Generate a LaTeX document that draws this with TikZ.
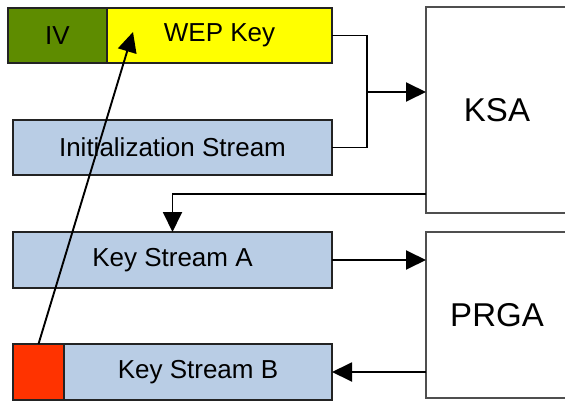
\documentclass[tikz,border=0pt]{standalone}
\usepackage{fontspec}
\setmainfont{Liberation Sans}
\usetikzlibrary{arrows.meta}
\definecolor{ivgreen}{RGB}{94,140,0}
\definecolor{wepyellow}{RGB}{255,255,0}
\definecolor{streamblue}{RGB}{185,205,229}
\definecolor{keyred}{RGB}{255,51,0}
\definecolor{edge}{RGB}{35,35,35}
\begin{document}
\begin{tikzpicture}[x=1pt,y=-1pt,
  box/.style={draw=edge,line width=1.8pt,rectangle,inner sep=0pt,outer sep=0pt,
    font=\fontsize{26}{30}\selectfont},
  bigbox/.style={draw=edge!80,line width=1.3pt,fill=white,rectangle,inner sep=0pt,outer sep=0pt,
    font=\fontsize{33}{38}\selectfont},
  conn/.style={line width=1.9pt,draw=black},
  arr/.style={conn,-{Triangle[length=20pt,width=19pt]}}]
\path[use as bounding box,clip] (0,0) rectangle (565,401);
\node[box,fill=ivgreen,minimum width=99pt,minimum height=55pt] (iv) at (57.5,35.5) {IV};
\node[box,fill=wepyellow,minimum width=225pt,minimum height=55pt] (wep) at (219.5,35.5) {WEP Key};
\node[box,fill=streamblue,minimum width=319pt,minimum height=55pt] (init) at (172.5,147.5) {Initialization Stream};
\node[box,fill=streamblue,minimum width=319pt,minimum height=56pt] (ksa_a) at (172.5,260) {Key Stream A};
\node[box,fill=keyred,minimum width=51pt,minimum height=56pt] (red) at (38.5,372) {};
\node[box,fill=streamblue,minimum width=268pt,minimum height=56pt] (ksb) at (198,372) {Key Stream B};
\node[bigbox,minimum width=142pt,minimum height=206pt] (ksa) at (497,110) {KSA};
\node[bigbox,minimum width=142pt,minimum height=166pt] (prga) at (497,315) {PRGA};
\coordinate (j) at (367,92);
\coordinate (k1) at (0,194);
\coordinate (tip) at (133,32);
\draw[conn] (wep.east) -| (j);
\draw[conn] (init.east) -| (j);
\draw[arr] (j) -- (j -| ksa.west);
\draw[arr] (ksa.west |- k1) -| (ksa_a.north);
\draw[arr] (ksa_a.east) -- (ksa_a.east -| prga.west);
\draw[arr] (ksb.east -| prga.west) -- (ksb.east);
\draw[arr] (red.north) -- (tip);
\end{tikzpicture}
\end{document}
